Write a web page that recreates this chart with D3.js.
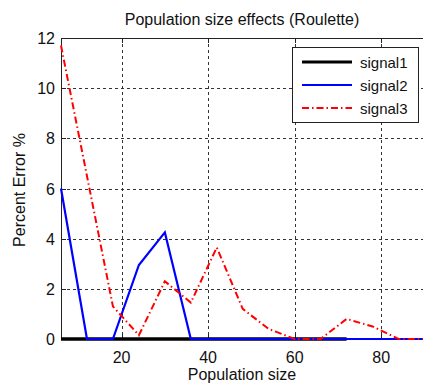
<!DOCTYPE html>
<html lang="en">
<head>
<meta charset="UTF-8">
<title>Population size effects (Roulette)</title>
<script src="https://d3js.org/d3.v7.min.js"></script>
<style>
    body { margin: 0; background: #fff; font-family: "Liberation Sans", Arial, sans-serif; }
    .grid line { stroke: #333; stroke-dasharray: 3,3; stroke-width: 1; }
    text { fill: #111; }
</style>
</head>
<body>
<div id="chart"></div>
<script>
    // population sizes on the x axis
    const popSizes = [6, 12, 18, 24, 30, 36, 42, 48, 54, 60, 66, 72, 78, 84, 90];
    const signal1 = [0, 0, 0, 0, 0, 0, 0, 0, 0, 0, 0, 0];
    const signal2 = [6.0, 0, 0, 2.95, 4.25, 0, 0, 0, 0, 0, 0, 0, 0, 0, 0];
    const signal3 = [11.7, 6.5, 1.3, 0.15, 2.3, 1.45, 3.65, 1.2, 0.4, 0, 0, 0.8, 0.5, 0, 0];
    const xTicks = [20, 40, 60, 80];
    const yTicks = [0, 2, 4, 6, 8, 10, 12];
    const seriesNames = ["signal1", "signal2", "signal3"];

    const width = 423, height = 385;
    const mLeft = 61, mTop = 38, mRight = 424.5, mBottom = 339;

    const svg = d3.select("#chart").append("svg")
        .attr("width", width)
        .attr("height", height);

    const x = d3.scaleLinear().domain([6, 90]).range([mLeft, mRight]);
    const y = d3.scaleLinear().domain([0, 12]).range([mBottom, mTop]);

    // dashed grid
    const grid = svg.append("g").attr("class", "grid");
    grid.selectAll(".gx").data(xTicks).enter().append("line")
        .attr("x1", d => Math.round(x(d)) + 0.5).attr("x2", d => Math.round(x(d)) + 0.5)
        .attr("y1", mTop).attr("y2", mBottom);
    grid.selectAll(".gy").data(yTicks.filter(d => d > 0 && d < 12)).enter().append("line")
        .attr("y1", d => Math.round(y(d)) + 0.5).attr("y2", d => Math.round(y(d)) + 0.5)
        .attr("x1", mLeft).attr("x2", mRight);

    // tick marks inside the box
    const ticks = svg.append("g").attr("stroke", "#222").attr("stroke-width", 1);
    xTicks.forEach(t => {
        const px = Math.round(x(t)) + 0.5;
        ticks.append("line").attr("x1", px).attr("x2", px).attr("y1", mTop).attr("y2", mTop + 5);
        ticks.append("line").attr("x1", px).attr("x2", px).attr("y1", mBottom).attr("y2", mBottom - 5);
    });
    yTicks.forEach(t => {
        const py = Math.round(y(t)) + 0.5;
        ticks.append("line").attr("x1", mLeft).attr("x2", mLeft + 5).attr("y1", py).attr("y2", py);
    });

    // axes box (left, top, bottom)
    svg.append("path")
        .attr("d", `M${mRight},${mTop + 0.5}H${mLeft + 0.5}V${mBottom + 0.5}H${mRight}`)
        .attr("fill", "none").attr("stroke", "#222").attr("stroke-width", 1);

    const line = d3.line().x((d, i) => x(popSizes[i])).y(d => y(d));

    const plot = svg.append("g");
    plot.append("path").datum(signal1).attr("d", line)
        .attr("fill", "none").attr("stroke", "#000").attr("stroke-width", 3.5);
    plot.append("path").datum(signal2).attr("d", line)
        .attr("fill", "none").attr("stroke", "#0000ff").attr("stroke-width", 2.2);
    plot.append("path").datum(signal3).attr("d", line)
        .attr("fill", "none").attr("stroke", "#ff0000").attr("stroke-width", 2)
        .attr("stroke-dasharray", "7,3,1.5,3");

    // tick labels
    svg.append("g").selectAll("text").data(xTicks).enter().append("text")
        .attr("x", d => x(d)).attr("y", 363)
        .attr("text-anchor", "middle").attr("font-size", 16)
        .text(d => d);
    svg.append("g").selectAll("text").data(yTicks).enter().append("text")
        .attr("x", 55).attr("y", d => y(d) + 6)
        .attr("text-anchor", "end").attr("font-size", 16)
        .text(d => d);

    // title and axis labels
    svg.append("text").attr("x", (mLeft + 423) / 2).attr("y", 25)
        .attr("text-anchor", "middle").attr("font-size", 16)
        .text("Population size effects (Roulette)");
    svg.append("text").attr("x", (mLeft + 423) / 2).attr("y", 380)
        .attr("text-anchor", "middle").attr("font-size", 16)
        .text("Population size");
    svg.append("text")
        .attr("transform", "translate(25,190) rotate(-90)")
        .attr("text-anchor", "middle").attr("font-size", 16)
        .text("Percent Error %");

    // legend
    const lg = svg.append("g");
    lg.append("rect").attr("x", 292.5).attr("y", 47.5).attr("width", 126).attr("height", 75)
        .attr("fill", "#fff").attr("stroke", "#222").attr("stroke-width", 1);
    const legendStyles = [
        { color: "#000", w: 3, dash: null },
        { color: "#0000ff", w: 2.2, dash: null },
        { color: "#ff0000", w: 2, dash: "7,3,1.5,3" }
    ];
    seriesNames.forEach((name, i) => {
        const ly = 62 + i * 23;
        const st = legendStyles[i];
        lg.append("line").attr("x1", 302).attr("x2", 352).attr("y1", ly).attr("y2", ly)
            .attr("stroke", st.color).attr("stroke-width", st.w)
            .attr("stroke-dasharray", st.dash);
        lg.append("text").attr("x", 360).attr("y", ly + 5.5).attr("font-size", 15).text(name);
    });
</script>
</body>
</html>
